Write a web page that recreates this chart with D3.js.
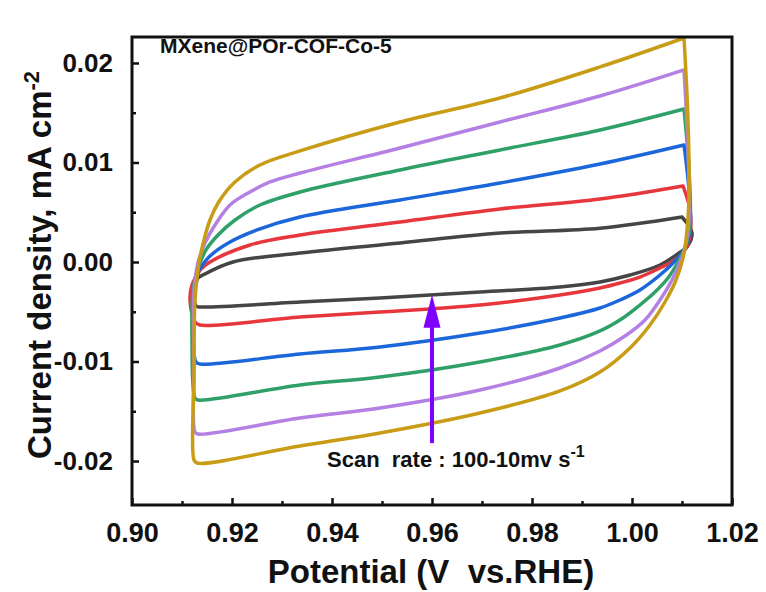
<!DOCTYPE html>
<html>
<head>
<meta charset="utf-8">
<script src="https://cdn.jsdelivr.net/npm/d3@7"></script>
<style>
  body { margin: 0; background: #fff; }
  svg text { font-family: "Liberation Sans", Arial, sans-serif; font-weight: bold; fill: #111; }
</style>
</head>
<body>
<svg id="chart" width="766" height="592"></svg>
<script>
// CV loops, [potential V vs RHE, current density mA cm-2]
// anodic = upper branch left -> right, cathodic = right side, lower branch right -> left, left side
var anodic10 = [
  [0.9142, -0.00131], [0.9202, 0.0000], [0.9336, 0.0009], [0.9536, 0.00191], [0.9736, 0.00291],
  [0.9936, 0.0034], [1.0100, 0.00452]
];
var cathodic10 = [
  [1.0120, 0.00291], [1.0110, 0.00151], [1.0094, 0.0009], [1.0056, -0.0003], [0.9996, -0.00131],
  [0.9936, -0.00201], [0.9856, -0.00251], [0.9696, -0.00302], [0.9496, -0.00362], [0.9336, -0.00402],
  [0.9136, -0.00452], [0.9128, -0.00442], [0.9126, -0.00281], [0.9132, -0.00161]
];
var anodic20 = [
  [0.9136, -0.0008], [0.9156, 0.0000], [0.9236, 0.00171], [0.9336, 0.00271], [0.9536, 0.00402],
  [0.9736, 0.00533], [0.9936, 0.00633], [1.0102, 0.00764]
];
var cathodic20 = [
  [1.0116, 0.00523], [1.0116, 0.00271], [1.0106, 0.00121], [1.0086, 0.0002], [1.0056, -0.0006],
  [1.0016, -0.00151], [0.9976, -0.00211], [0.9936, -0.00261], [0.9856, -0.00332], [0.9696, -0.00432],
  [0.9496, -0.00503], [0.9336, -0.00553], [0.9136, -0.00633], [0.9126, -0.00603], [0.9116, -0.00382],
  [0.9120, -0.00231]
];
var anodic40 = [
  [0.9134, -0.0008], [0.9156, 0.0006], [0.9196, 0.00201], [0.9250, 0.00322], [0.9336, 0.00452],
  [0.9536, 0.00623], [0.9736, 0.00794], [0.9936, 0.00985], [1.0104, 0.01176]
];
var cathodic40 = [
  [1.0114, 0.00724], [1.0116, 0.00322], [1.0104, 0.00121], [1.0084, 0.0000], [1.0056, -0.00131],
  [1.0016, -0.00281], [0.9976, -0.00382], [0.9936, -0.00462], [0.9856, -0.00563], [0.9696, -0.00714],
  [0.9496, -0.00854], [0.9336, -0.00925], [0.9136, -0.01025], [0.9128, -0.01005], [0.9122, -0.00583],
  [0.9124, -0.00281]
];
var anodic60 = [
  [0.9132, -0.0006], [0.9148, 0.00121], [0.9172, 0.00271], [0.9206, 0.00422], [0.9256, 0.00573],
  [0.9336, 0.00704], [0.9536, 0.00925], [0.9736, 0.01126], [0.9936, 0.01327], [1.0104, 0.01538]
];
var cathodic60 = [
  [1.0114, 0.00925], [1.0116, 0.00372], [1.0106, 0.00141], [1.0092, 0.0000], [1.0072, -0.00161],
  [1.0046, -0.00302], [1.0016, -0.00432], [0.9982, -0.00563], [0.9936, -0.00693], [0.9856, -0.00834],
  [0.9696, -0.01005], [0.9496, -0.01156], [0.9336, -0.01236], [0.9132, -0.01387], [0.9126, -0.01367],
  [0.9120, -0.00784], [0.9122, -0.00281]
];
var anodic80 = [
  [0.9132, 0.0000], [0.9146, 0.00191], [0.9166, 0.00372], [0.9196, 0.00573], [0.9236, 0.00704],
  [0.9276, 0.00804], [0.9336, 0.00894], [0.9536, 0.01146], [0.9736, 0.01407], [0.9936, 0.01668],
  [1.0104, 0.0193]
];
var cathodic80 = [
  [1.0112, 0.01126], [1.0114, 0.00422], [1.0106, 0.00141], [1.0096, 0.0000], [1.0080, -0.00181],
  [1.0056, -0.00382], [1.0026, -0.00583], [0.9986, -0.00744], [0.9936, -0.00894], [0.9856, -0.01065],
  [0.9696, -0.01286], [0.9496, -0.01467], [0.9336, -0.01568], [0.9132, -0.01729], [0.9126, -0.01709],
  [0.9124, -0.00985], [0.9124, -0.00281]
];
var anodic100 = [
  [0.9134, 0.0000], [0.9144, 0.00221], [0.9156, 0.00422], [0.9176, 0.00623], [0.9206, 0.00804],
  [0.9256, 0.00975], [0.9336, 0.01116], [0.9536, 0.01407], [0.9736, 0.01648], [0.9936, 0.0196],
  [1.0104, 0.02251]
];
var cathodic100 = [
  [1.0112, 0.01427], [1.0114, 0.00623], [1.0108, 0.00221], [1.0102, 0.0004], [1.0088, -0.00181],
  [1.0066, -0.00402], [1.0036, -0.00633], [0.9996, -0.00864], [0.9936, -0.01106], [0.9856, -0.01296],
  [0.9696, -0.01518], [0.9496, -0.01719], [0.9336, -0.01849], [0.9130, -0.0202], [0.9124, -0.0199],
  [0.9124, -0.01186], [0.9126, -0.00382]
];

var loops = [
  [anodic10, cathodic10], [anodic20, cathodic20], [anodic40, cathodic40],
  [anodic60, cathodic60], [anodic80, cathodic80], [anodic100, cathodic100]
];
var loopColors = ['#454545', '#e8363d', '#1b67da', '#2fa168', '#b480e4', '#c89c14'];

var xTicks = [0.90, 0.92, 0.94, 0.96, 0.98, 1.00, 1.02];
var yTicks = [-0.02, -0.01, 0.00, 0.01, 0.02];
var arrowV = 0.96, arrowFrom = -0.0182, arrowTo = -0.0033;

var svg = d3.select('#chart');
var margin = {left: 132, right: 34, top: 37, bottom: 87};
var W = 766, H = 592;

var x = d3.scaleLinear().domain([0.90, 1.02]).range([margin.left, W - margin.right]);
var y = d3.scaleLinear().domain([-0.02442, 0.02261]).range([H - margin.bottom, margin.top]);

var fmt = function (d) { return d.toFixed(2); };

// minor ticks
svg.append('g')
  .attr('transform', 'translate(0,' + (H - margin.bottom) + ')')
  .call(d3.axisBottom(x).tickValues(d3.range(0.91, 1.02, 0.02)).tickSizeInner(-4).tickSizeOuter(0).tickFormat(''))
  .call(function (g) { g.select('.domain').remove(); })
  .selectAll('line').attr('stroke-width', 2.5).attr('stroke', '#111');
svg.append('g')
  .attr('transform', 'translate(' + margin.left + ',0)')
  .call(d3.axisLeft(y).tickValues([-0.015, -0.005, 0.005, 0.015]).tickSizeInner(-4).tickSizeOuter(0).tickFormat(''))
  .call(function (g) { g.select('.domain').remove(); })
  .selectAll('line').attr('stroke-width', 2.5).attr('stroke', '#111');

// major ticks + labels
var xAxis = svg.append('g')
  .attr('transform', 'translate(0,' + (H - margin.bottom) + ')')
  .call(d3.axisBottom(x).tickValues(xTicks).tickSizeInner(-7).tickSizeOuter(0).tickPadding(18).tickFormat(fmt));
xAxis.select('.domain').remove();
xAxis.selectAll('line').attr('stroke-width', 2.5).attr('stroke', '#111');
xAxis.selectAll('text').style('font-size', '27px');

var yAxis = svg.append('g')
  .attr('transform', 'translate(' + margin.left + ',0)')
  .call(d3.axisLeft(y).tickValues(yTicks).tickSizeInner(-7).tickSizeOuter(0).tickPadding(19).tickFormat(fmt));
yAxis.select('.domain').remove();
yAxis.selectAll('line').attr('stroke-width', 2.5).attr('stroke', '#111');
yAxis.selectAll('text').style('font-size', '26px');

// curves: each branch smoothed on its own so the switching corner stays sharp
var line = d3.line()
  .x(function (d) { return x(d[0]); })
  .y(function (d) { return y(d[1]); })
  .curve(d3.curveCatmullRom.alpha(0.5));

function loopPath(d) {
  var up = d[0], down = d[1];
  var back = [up[up.length - 1]].concat(down, [up[0]]);
  return line(up) + line(back).replace(/^M/, 'L');
}

svg.append('g').selectAll('path')
  .data(loops)
  .enter().append('path')
  .attr('d', loopPath)
  .attr('fill', 'none')
  .attr('stroke', function (d, i) { return loopColors[i]; })
  .attr('stroke-width', 3.5)
  .attr('stroke-linejoin', 'round');

// frame
svg.append('rect')
  .attr('x', margin.left).attr('y', margin.top)
  .attr('width', W - margin.left - margin.right)
  .attr('height', H - margin.top - margin.bottom)
  .attr('fill', 'none').attr('stroke', '#111').attr('stroke-width', 3);

// arrow
var arrowColor = '#8000ff';
svg.append('line')
  .attr('x1', x(arrowV)).attr('x2', x(arrowV))
  .attr('y1', y(arrowFrom)).attr('y2', y(arrowTo) + 30)
  .attr('stroke', arrowColor).attr('stroke-width', 4);
svg.append('path')
  .attr('d', 'M' + x(arrowV) + ',' + y(arrowTo) + 'l-8.5,33h17z')
  .attr('fill', arrowColor);

// texts
svg.append('text')
  .attr('x', 160).attr('y', 53)
  .style('font-size', '21px')
  .text('MXene@POr-COF-Co-5');

var scan = svg.append('text')
  .attr('x', 327).attr('y', 467)
  .style('font-size', '22px')
  .style('white-space', 'pre');
scan.append('tspan').text('Scan  rate : 100-10mv s');
scan.append('tspan').attr('dy', -10).style('font-size', '16px').text('-1');

svg.append('text')
  .attr('x', 431).attr('y', 583)
  .attr('text-anchor', 'middle')
  .style('font-size', '33px')
  .style('white-space', 'pre')
  .text('Potential (V  vs.RHE)');

var yt = svg.append('text')
  .attr('transform', 'translate(51,265) rotate(-90)')
  .attr('text-anchor', 'middle')
  .style('font-size', '33px');
yt.append('tspan').text('Current density, mA cm');
yt.append('tspan').attr('dy', -12).style('font-size', '22px').text('-2');
</script>
</body>
</html>
